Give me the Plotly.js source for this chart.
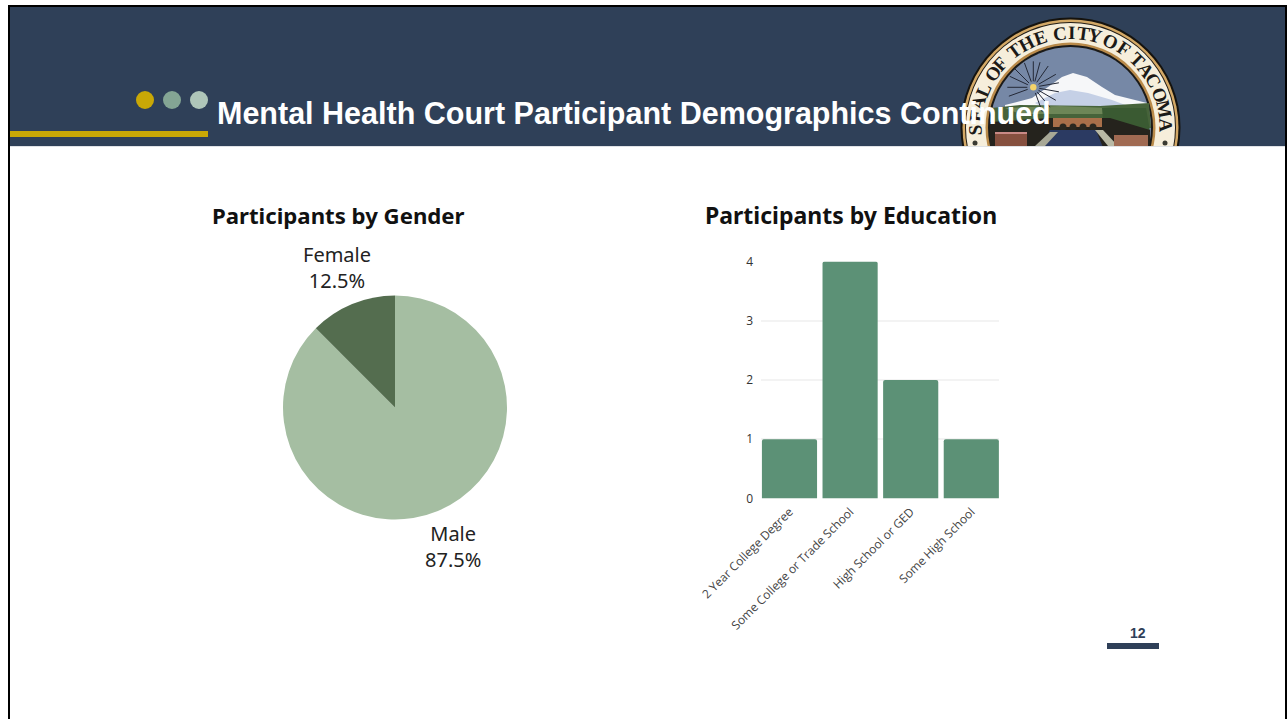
<!DOCTYPE html>
<html>
<head>
<meta charset="utf-8">
<script src="https://cdn.plot.ly/plotly-3.0.1.min.js"></script>
<style>html,body{margin:0;padding:0;background:#fff;overflow:hidden}#c{width:1288px;height:719px}</style>
</head>
<body>
<div id="c"></div>
<script>
const genderLabels = ['Male', 'Female'];
const genderValues = [87.5, 12.5];
const genderColors = ['#a5bea2', '#546d4f'];
const educationLabels = ['2 Year College Degree', 'Some College or Trade School', 'High School or GED', 'Some High School'];
const educationValues = [1, 4, 2, 1];
const slideTitle = 'Mental Health Court Participant Demographics Continued';
const genderTitle = 'Participants by Gender';
const educationTitle = 'Participants by Education';
const pageNumber = '12';
const sealLetters = Array.from('SEALOFTHECITYOFTACOMA');
const sealAngles = [-91.5,-82.7,-75,-66.8,-55,-47.5,-36,-27.5,-18.5,-6.3,0.7,7.8,15,25,34,44.5,53,60.6,70.4,78.7,89];

const W = 1288, H = 719;
const px = x => x / W, py = y => 1 - y / H;
const rect = (x0, y0, x1, y1, c) => ({type:'rect', xref:'paper', yref:'paper', x0:px(x0), x1:px(x1), y0:py(y1), y1:py(y0), fillcolor:c, line:{width:0}, layer:'below'});
const circ = (cx, cy, r, c) => ({type:'circle', xref:'paper', yref:'paper', x0:px(cx-r), x1:px(cx+r), y0:py(cy+r), y1:py(cy-r), fillcolor:c, line:{width:0}, layer:'below'});
const poly = (pts, c) => ({type:'path', xref:'paper', yref:'paper', path:'M' + pts.map(p => px(p[0]) + ',' + py(p[1])).join('L') + 'Z', fillcolor:c, line:{width:0}, layer:'below'});
const stroke = (x0, y0, x1, y1, c, w) => ({type:'line', xref:'paper', yref:'paper', x0:px(x0), x1:px(x1), y0:py(y0), y1:py(y1), line:{color:c, width:w}, layer:'below'});

const navy = '#2f4058';
const sx = 1070.5, sy = 127.5;
const shapes = [
  rect(10, 7, 1285, 146, navy),
  // seal rings
  circ(sx, sy, 110, '#15130f'),
  circ(sx, sy, 108, '#d3a866'),
  circ(sx, sy, 105.5, '#211c16'),
  circ(sx, sy, 104.5, '#f6eedb'),
  circ(sx, sy, 85, '#b98a4a'),
  circ(sx, sy, 82.5, '#1b1a18'),
  circ(sx, sy, 80.5, '#7688a6'),
  // mountain
  poly([[1005,105],[1032,98],[1048,87],[1062,77],[1073,73],[1087,77],[1102,87],[1115,95],[1147,103],[1147,107],[1005,107]], '#f6f7f9'),
  poly([[1035,103],[1055,93],[1070,90],[1088,93],[1112,100],[1128,106],[1040,106]], '#c5d0e6'),
  // land
  poly([[991,108],[1020,105],[1100,106],[1149,103],[1151,128],[990,128]], '#46633a'),
  poly([[1005,108],[1060,106],[1110,108],[1105,114],[1020,114]], '#6d8657'),
  poly([[1102,108],[1146,108],[1150,132],[1104,132]], '#3a5a32'),
  poly([[990,122],[1050,118],[1110,118],[1150,130],[1150,150],[990,150]], '#25231d'),
  rect(1053, 118, 1102, 127, '#a9704a'),
  circ(1063, 127, 3.5, '#2a2820'), circ(1073, 127, 3.5, '#2a2820'), circ(1083, 127, 3.5, '#2a2820'), circ(1093, 127, 3.5, '#2a2820'),
  poly([[1042,150],[1050,130],[1096,130],[1104,150]], '#2b3a62'),
  poly([[1095,130],[1103,130],[1118,146],[1108,146]], '#b9b9a5'),
  poly([[1035,146],[1050,132],[1058,132],[1045,146]], '#a8a896'),
  rect(995, 132, 1027, 146, '#86503f'),
  rect(995, 132, 1027, 134, '#c98a86'),
  rect(1114, 135, 1148, 146, '#a06a52'),
  circ(975, 143, 2.5, '#3a3a32'),
  circ(1165, 143, 2.5, '#3a3a32'),
  circ(1033.3, 87.3, 3.2, '#f3d36a')
];
const rayAngles = [-70, -50, -30, -10, 10, 30, 55, 75, 90, 110, 135, 155, 180, 200];
rayAngles.forEach(a => {
  const t = a * Math.PI / 180;
  shapes.push(stroke(1033.3 + 6*Math.cos(t), 87.3 - 6*Math.sin(t), 1033.3 + 26*Math.cos(t), 87.3 - 26*Math.sin(t), '#232836', 1));
});
shapes.push(
  // white page below banner
  rect(10, 146, 1285, 719, '#ffffff'),
  rect(10, 146, 1285, 147, '#dfe2e6'),
  // slide border
  rect(8, 5, 1287, 7, '#000000'),
  rect(8, 5, 10, 719, '#000000'),
  rect(1285, 5, 1287, 719, '#000000'),
  // header decoration
  rect(10, 131, 208, 137, '#c9a806'),
  circ(145, 100, 9, '#c9a806'),
  circ(172, 100, 9, '#84a594'),
  circ(199, 100, 9, '#afc6b9'),
  // page number bar
  rect(1107, 643, 1159, 649, navy)
);

const annotations = [];
sealLetters.forEach((ch, i) => {
  const t = sealAngles[i] * Math.PI / 180;
  annotations.push({text:ch, x:px(sx + 95*Math.sin(t)), y:py(sy - 95*Math.cos(t)), xanchor:'center', yanchor:'middle', textangle:sealAngles[i],
    font:{family:'Liberation Serif', size:19, color:'#1c1a17', weight:700}});
});
annotations.push(
  {text:slideTitle, x:px(214.5), y:py(114), xanchor:'left', yanchor:'middle', font:{family:'Liberation Sans', size:30.5, color:'#ffffff', weight:700}},
  {text:genderTitle, x:px(338), y:py(215), xanchor:'center', yanchor:'middle', font:{family:'Noto Sans', size:22.2, color:'#111111', weight:700}},
  {text:educationTitle, x:px(851), y:py(215), xanchor:'center', yanchor:'middle', font:{family:'Noto Sans', size:23, color:'#111111', weight:700}},
  {text:pageNumber, x:px(1138), y:py(633), xanchor:'center', yanchor:'middle', font:{family:'Liberation Sans', size:14, color:navy, weight:700}},
  {text:genderLabels[1] + '<br>' + genderValues[1] + '%', x:px(337), y:py(267.5), xanchor:'center', yanchor:'middle', font:{family:'Noto Sans', size:20, color:'#222222'}},
  {text:genderLabels[0] + '<br>' + genderValues[0] + '%', x:px(453), y:py(546.5), xanchor:'center', yanchor:'middle', font:{family:'Noto Sans', size:20, color:'#222222'}}
);
annotations.forEach(a => { a.xref = 'paper'; a.yref = 'paper'; a.showarrow = false; });

const data = [
  {type:'pie', labels:genderLabels, values:genderValues, sort:false, direction:'clockwise', rotation:0,
   marker:{colors:genderColors, line:{width:0}}, textinfo:'none', textposition:'none',
   showlegend:false, hoverinfo:'label+percent',
   domain:{x:[px(283), px(507)], y:[py(519.5), py(295.5)]}},
  {type:'bar', x:educationLabels, y:educationValues, xaxis:'x', yaxis:'y', marker:{color:'#5c9176', cornerradius:2}, hoverinfo:'x+y'}
];

const layout = {
  width:W, height:H, margin:{l:0, r:0, t:0, b:0}, paper_bgcolor:'#ffffff', plot_bgcolor:'rgba(0,0,0,0)',
  showlegend:false, bargap:0.09, shapes, annotations,
  xaxis:{domain:[px(761), px(999)], range:[-0.47, 3.457], anchor:'y', tickangle:-45, ticks:'', showgrid:false, zeroline:false, showline:false,
    tickfont:{family:'Open Sans', size:12, color:'#444444'}, ticklabelstandoff:3, automargin:false},
  yaxis:{domain:[py(498.5), py(261.5)], range:[0, 4], anchor:'x', tickvals:[0,1,2,3,4], ticks:'', showline:false, zeroline:false,
    gridcolor:'#f3f3f3', gridwidth:1.5, tickfont:{family:'Open Sans', size:12, color:'#333333'}, ticklabelstandoff:7, automargin:false}
};
Plotly.newPlot('c', data, layout, {displayModeBar:false, responsive:false});
</script>
</body>
</html>
